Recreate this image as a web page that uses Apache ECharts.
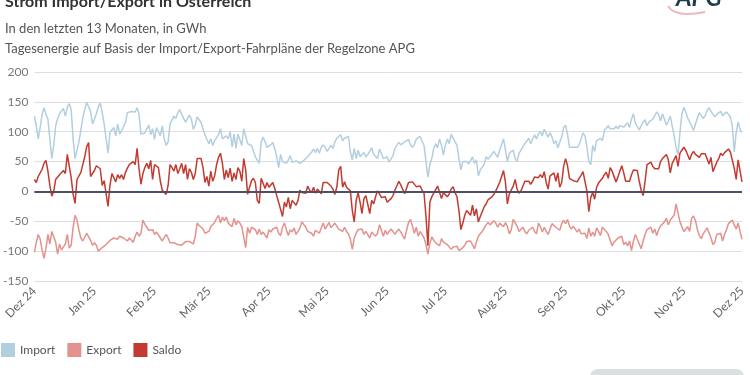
<!DOCTYPE html>
<html>
<head>
<meta charset="utf-8">
<script src="https://cdn.jsdelivr.net/npm/echarts@6/dist/echarts.min.js"></script>
<style>
html,body{margin:0;padding:0;background:#fff;}
#chart{width:750px;height:375px;}
</style>
</head>
<body>
<div id="chart"></div>
<script>
// Tageswerte ab 01.12.2024, in GWh
var startDate = '2024-12-01';
var monthNames = ['Jan','Feb','Mär','Apr','Mai','Jun','Jul','Aug','Sep','Okt','Nov','Dez'];
var yTicks = [-150, 200, 50];

var importVals = [
	126,110,88,107,129,140,129,121,88,55, 77,110,122,130,127,139,126,141,147,137,
	88,55,69,83,103,123,137,149,151,134, 113,121,130,142,148,132,113,115,64,99,
	99,107,93,113,96,102,99,115,132,134, 134,136,133,140,129,96,95,98,96,111,
	95,105,87,107,100,93,110,88,77,83, 113,114,126,122,132,137,129,126,116,122,
	128,121,104,111,125,120,115,116,95,87, 80,88,77,85,88,95,105,88,85,93,
	88,100,74,96,72,96,93,77,105,102, 80,80,77,74,58,58,47,83,91,83,
	74,74,78,82,72,58,40,62,50,50, 47,53,60,49,47,51,49,47,50,52,
	51,58,61,66,71,65,72,64,74,78, 74,67,64,77,72,83,89,87,95,85,
	89,88,92,66,53,72,55,69,58,55, 65,58,62,67,73,62,60,55,71,74,55,
	53,58,49,50,60,72,69,82,78,76, 83,80,87,78,74,78,88,91,92,89,
	77,50,24,45,55,72,80,73,88,77, 61,77,88,80,96,99,83,77,55,36,
	50,48,50,46,45,58,47,53,26,36, 35,45,58,54,58,55,67,66,57,69,
	71,88,69,50,64,67,69,55,50,64, 69,66,80,84,89,80,83,95,88,96,
	100,93,104,105,91,98,91,80,85,73,76,
	91,107,111,96,74,76,74,72,74,78, 88,98,93,74,50,45,77,67,85,83,
	89,85,102,103,110,105,104,105,109,105, 110,111,108,111,115,107,121,130,114,113,
	103,110,116,120,110,116,114,121,127,133, 129,118,130,121,111,118,126,126,93,74,
	61,99,130,141,133,123,123,110,102,113, 123,132,127,122,127,136,140,141,129,125,
	129,129,134,127,130,133,132,125,110,66, 99,116,104,99
];

var exportVals = [
	-102,-86,-72,-80,-98,-112,-95,-72,-88,-67, -70,-85,-105,-88,-98,-95,-88,-72,-95,-90,
	-60,-40,-48,-65,-78,-83,-82,-70,-68,-82, -90,-86,-90,-100,-98,-94,-91,-89,-86,-82,
	-80,-78,-75,-80,-75,-73,-78,-80,-83,-78, -75,-85,-75,-68,-75,-70,-48,-55,-60,-65,
	-67,-64,-72,-68,-73,-78,-83,-86,-72,-78, -86,-83,-86,-88,-89,-88,-90,-87,-84,-86,
	-84,-87,-88,-75,-53,-57,-60,-63,-70,-68, -67,-59,-60,-52,-45,-40,-53,-43,-49,-43,
	-53,-51,-59,-45,-56,-49,-53,-59,-61,-94, -60,-70,-60,-61,-64,-72,-63,-72,-68,-67,
	-78,-64,-68,-63,-66,-60,-70,-74,-60,-53, -64,-74,-64,-68,-61,-72,-67,-61,-51,-54,
	-60,-67,-64,-70,-75,-65,-63,-70,-61,-53, -63,-61,-52,-61,-58,-53,-52,-63,-63,-67,
	-60,-67,-71,-80,-97,-78,-70,-64,-67,-63, -72,-67,-67,-78,-68,-65,-75,-70,-56,-65,-75,
	-65,-72,-67,-63,-65,-72,-67,-63,-68,-71, -80,-65,-52,-47,-58,-70,-60,-75,-67,-67,
	-78,-89,-105,-87,-76,-82,-86,-85,-91,-79, -85,-83,-89,-91,-97,-93,-90,-92,-99,-101,
	-94,-90,-84,-85,-83,-85,-96,-85,-75,-71, -67,-67,-56,-52,-56,-54,-49,-53,-60,-53,
	-56,-59,-52,-59,-71,-64,-47,-48,-58,-67, -68,-60,-67,-71,-65,-64,-60,-67,-71,-53,
	-59,-68,-60,-67,-72,-63,-54,-52,-60,-58,-65,
	-54,-48,-54,-47,-58,-63,-58,-61,-68,-63, -71,-74,-70,-79,-61,-75,-68,-75,-61,-67,
	-74,-60,-61,-67,-72,-75,-91,-85,-83,-78, -80,-75,-89,-85,-91,-83,-99,-83,-72,-80,
	-78,-96,-83,-72,-64,-67,-60,-70,-63,-74, -64,-58,-60,-51,-45,-56,-48,-51,-40,-21,
	-36,-51,-53,-67,-64,-59,-67,-45,-41,-49, -64,-74,-79,-71,-68,-61,-64,-78,-89,-85,
	-72,-74,-70,-83,-72,-64,-54,-51,-48,-56, -63,-53,-67,-80
];

var saldoVals = [
	20,15,25,28,37,47,52,34,10,-8, 0,20,19,28,28,35,30,62,60,23,
	-5,-20,20,22,32,45,58,75,82,25, 22,35,43,41,38,10,18,15,-25,10,
	30,28,16,28,22,28,20,32,39,45, 47,50,45,72,38,12,30,40,47,38,
	52,20,45,44,40,17,2,0,-5,10, 45,40,34,45,30,38,47,30,45,20,
	38,32,20,30,55,55,55,40,15,25, 9,34,17,26,45,57,64,47,20,36,
	23,39,17,31,20,40,34,17,55,36, -5,7,18,22,15,-15,-20,22,22,5,
	15,7,5,15,5,-7,-18,-15,-42,-18, -26,-10,-29,-15,-18,-23,-15,2,-2,0,
	-3,9,2,-2,7,-3,4,2,-4,15, 17,15,16,9,4,-5,7,36,42,7,
	16,7,4,1,-32,-51,-15,-2,-18,-37, -12,-7,-9,-37,-15,-21,-9,1,-4,-10,-12,
	-9,-18,-15,-12,-7,2,1,17,11,9, -4,-7,15,13,16,17,8,9,9,2,
	-3,-42,-91,-18,-9,-3,0,9,12,-12, -2,-2,-9,-4,4,8,-2,-9,-32,-64,
	-53,-40,-32,-34,-40,-23,-41,-29,-51,-42, -34,-26,-21,-14,-12,-9,-5,1,4,15,
	15,35,15,-21,-4,-2,9,20,4,-3, 1,9,17,18,17,12,17,24,22,23,
	28,23,33,15,4,26,26,31,17,31,7,
	15,42,55,43,22,22,18,20,16,22, 27,33,17,1,-34,-10,-2,-13,7,14,
	13,22,28,32,22,40,34,31,16,24, 34,43,31,17,18,17,28,36,34,35,
	17,2,-7,17,45,42,49,42,38,40, 38,50,55,58,62,53,31,47,46,60,
	42,64,62,74,69,61,53,62,67,62, 64,57,63,65,63,62,46,57,33,35,
	49,55,64,60,65,67,71,66,66,39, 20,53,55,16
];

// Datumskategorien
var days = [];
var d0 = new Date(startDate + 'T00:00:00Z');
for (var i = 0; i < importVals.length; i++) {
	var d = new Date(d0.getTime() + i * 86400000);
	days.push(d.toISOString().slice(0, 10));
}

var fontName = 'Lato, "Noto Sans", sans-serif';
var chart = echarts.init(document.getElementById('chart'));

var option = {
	animation: false,
	backgroundColor: '#ffffff',
	textStyle: { fontFamily: fontName },
	title: [
		{
			text: 'Strom Import/Export in Österreich',
			left: 0, top: -11,
			textStyle: { fontSize: 16, fontWeight: 'bold', color: '#333', fontFamily: fontName }
		},
		{
			text: 'In den letzten 13 Monaten, in GWh',
			left: 0, top: 17,
			textStyle: { fontSize: 13, fontWeight: 'normal', color: '#555', fontFamily: fontName }
		},
		{
			text: 'Tagesenergie auf Basis der Import/Export-Fahrpläne der Regelzone APG',
			left: 0, top: 37,
			textStyle: { fontSize: 13, fontWeight: 'normal', color: '#555', fontFamily: fontName }
		}
	],
	graphic: [
		{
			type: 'bezierCurve',
			shape: { x1: 668, y1: 6, x2: 705, y2: 12, cpx1: 675, cpy1: 18 },
			style: { stroke: '#e9b9c0', lineWidth: 2, fill: null }
		},
		{
			type: 'text', left: 676, top: -14,
			style: { text: 'APG', font: 'italic bold 24px ' + fontName, fill: '#1d3d4c' }
		},
		{
			type: 'rect',
			shape: { x: 590, y: 369, width: 154, height: 20, r: 8 },
			style: { fill: '#dcdfe0' }
		}
	],
	legend: {
		left: -4, bottom: 13,
		icon: 'rect', itemWidth: 14, itemHeight: 14, itemGap: 12,
		textStyle: { fontSize: 12, color: '#555', fontFamily: fontName },
		data: ['Import', 'Export', 'Saldo']
	},
	grid: { left: 31, right: 8, top: 72, bottom: 94 },
	xAxis: {
		type: 'category',
		boundaryGap: false,
		data: days,
		axisLine: { show: false },
		axisTick: { show: false },
		axisLabel: {
			rotate: 45,
			fontSize: 12,
			color: '#666',
			margin: 8,
			interval: function (idx, val) { return val.slice(8) === '01'; },
			formatter: function (val) {
				return monthNames[parseInt(val.slice(5, 7), 10) - 1] + ' ' + val.slice(2, 4);
			}
		}
	},
	yAxis: {
		type: 'value',
		min: yTicks[0], max: yTicks[1], interval: yTicks[2],
		axisLine: { show: false },
		axisTick: { show: false },
		axisLabel: { fontSize: 12, color: '#777', margin: 6 },
		splitLine: { lineStyle: { color: '#dedede', width: 1 } }
	},
	series: [
		{
			name: 'Import', type: 'line', data: importVals,
			showSymbol: false, color: '#b3cfdf',
			lineStyle: { width: 1.5 },
			markLine: {
				silent: true, symbol: 'none',
				label: { show: false },
				lineStyle: { color: '#4d4f66', width: 2, type: 'solid' },
				data: [{ yAxis: 0 }]
			}
		},
		{
			name: 'Export', type: 'line', data: exportVals,
			showSymbol: false, color: '#e3928d',
			lineStyle: { width: 1.5 }
		},
		{
			name: 'Saldo', type: 'line', data: saldoVals,
			showSymbol: false, color: '#c23a30',
			lineStyle: { width: 1.5 }
		}
	]
};
chart.setOption(option);
</script>
</body>
</html>
